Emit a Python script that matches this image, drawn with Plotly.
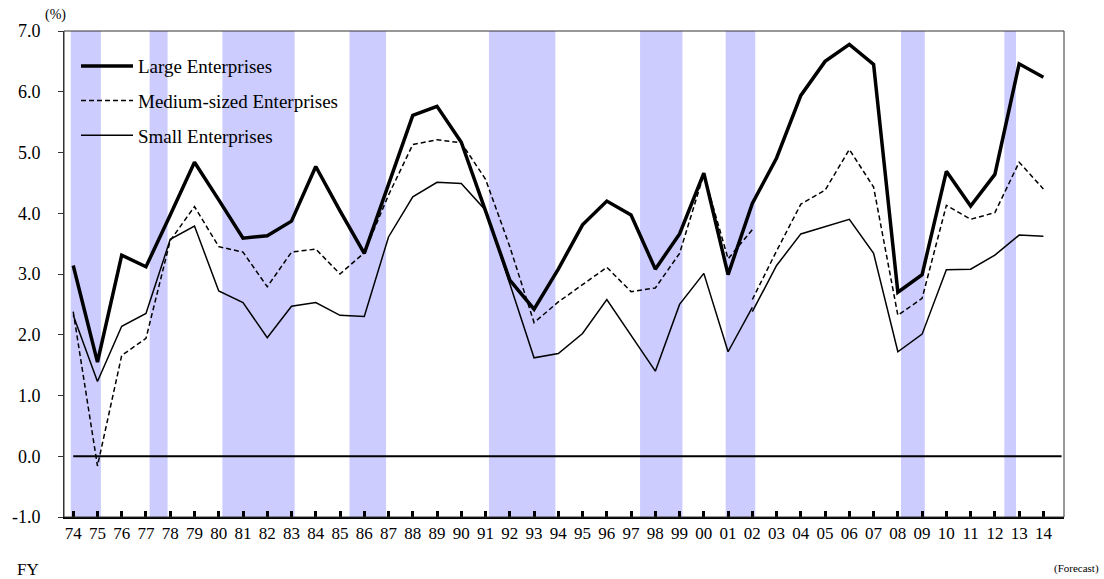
import plotly.graph_objects as go

# fiscal years 1974..2014
years = list(range(1974, 2015))
year_labels = [str(y)[2:] for y in years]

y_ticks = [-1, 0, 1, 2, 3, 4, 5, 6, 7]
y_tick_labels = ["-1.0", "0.0", "1.0", "2.0", "3.0", "4.0", "5.0", "6.0", "7.0"]

large = [3.14, 1.55, 3.31, 3.12, 3.97, 4.84, 4.22, 3.59, 3.63, 3.87,
         4.77, 4.04, 3.34, 4.48, 5.61, 5.76, 5.17, 4.04, 2.90, 2.42,
         3.08, 3.81, 4.20, 3.97, 3.08, 3.66, 4.66, 2.99, 4.16, 4.91,
         5.94, 6.50, 6.78, 6.45, 2.70, 2.99, 4.69, 4.12, 4.64, 6.46,
         6.24]

# medium-sized series has a break in FY02 (old basis / new basis)
medium_old = [2.38, -0.16, 1.66, 1.94, 3.55, 4.11, 3.45, 3.36, 2.79, 3.36,
              3.41, 3.00, 3.35, 4.30, 5.13, 5.21, 5.16, 4.56, 3.45, 2.20,
              2.54, 2.82, 3.11, 2.71, 2.77, 3.34, 4.64, 3.25, 3.73]
medium_new = [2.58, 3.38, 4.15, 4.38, 5.05, 4.43, 2.32, 2.60, 4.13, 3.90,
              4.01, 4.84, 4.40]

small_old = [2.32, 1.23, 2.14, 2.35, 3.57, 3.79, 2.72, 2.53, 1.95, 2.47,
             2.53, 2.32, 2.30, 3.61, 4.27, 4.51, 4.49, 4.05, 2.84, 1.62,
             1.69, 2.02, 2.58, 1.99, 1.40, 2.50, 3.01, 1.72, 2.45]
small_new = [2.38, 3.14, 3.66, 3.78, 3.90, 3.34, 1.72, 2.01, 3.07, 3.08,
             3.31, 3.64, 3.62]

# recession periods (shaded), in fiscal-year units
recession_start = [1973.90, 1977.15, 1980.15, 1985.39, 1991.14, 1997.37, 2000.90, 2008.13, 2012.39]
recession_end = [1975.14, 1977.89, 1983.13, 1986.90, 1993.88, 1999.12, 2002.12, 2009.11, 2012.87]

FONT = "'Liberation Serif', 'Times New Roman', Times, serif"
BAND = "#CCCCFF"

fig = go.Figure()

for x0, x1 in zip(recession_start, recession_end):
    fig.add_vrect(x0=x0, x1=x1, fillcolor=BAND, line_width=0, layer="below", opacity=1)

fig.add_trace(go.Scatter(
    x=years, y=large, mode="lines", name="Large Enterprises",
    line=dict(color="black", width=3.5), legendgroup="l",
))
fig.add_trace(go.Scatter(
    x=years[:len(medium_old)], y=medium_old, mode="lines", name="Medium-sized Enterprises",
    line=dict(color="black", width=1.5, dash="5px,3px"), legendgroup="m",
))
fig.add_trace(go.Scatter(
    x=years[-len(medium_new):], y=medium_new, mode="lines", name="Medium-sized Enterprises",
    line=dict(color="black", width=1.5, dash="5px,3px"), legendgroup="m", showlegend=False,
))
fig.add_trace(go.Scatter(
    x=years[:len(small_old)], y=small_old, mode="lines", name="Small Enterprises",
    line=dict(color="black", width=1.5), legendgroup="s",
))
fig.add_trace(go.Scatter(
    x=years[-len(small_new):], y=small_new, mode="lines", name="Small Enterprises",
    line=dict(color="black", width=1.5), legendgroup="s", showlegend=False,
))

# zero line and frame
fig.add_shape(type="line", xref="x", yref="y", x0=1974, x1=2014.75, y0=0, y1=0,
              line=dict(color="black", width=2))
fig.add_shape(type="rect", xref="paper", yref="paper", x0=0, x1=1, y0=0, y1=1,
              line=dict(color="#333333", width=1))

fig.update_layout(
    width=1104, height=579,
    paper_bgcolor="white", plot_bgcolor="white",
    font=dict(family=FONT, color="black", size=17),
    margin=dict(l=60, r=40, t=31, b=62),
    showlegend=True,
    legend=dict(
        x=0.012, y=0.967, xanchor="left", yanchor="top",
        bgcolor="rgba(0,0,0,0)", font=dict(size=19, family=FONT),
        traceorder="grouped", tracegroupgap=7, itemwidth=52,
    ),
    xaxis=dict(
        range=[1973.62, 2014.85], tickmode="array", tickvals=years, ticktext=year_labels,
        ticks="inside", ticklen=6, tickwidth=3, tickcolor="black",
        showline=True, linecolor="black", linewidth=2, showgrid=False, zeroline=False,
        tickfont=dict(size=17, family=FONT), ticklabelstandoff=0,
    ),
    yaxis=dict(
        range=[-1, 7], tickmode="array", tickvals=y_ticks, ticktext=y_tick_labels,
        ticks="outside", ticklen=5, tickcolor="#333333",
        showline=True, linecolor="#333333", linewidth=1, showgrid=False, zeroline=False,
        tickfont=dict(size=18, family=FONT), ticklabelstandoff=14,
    ),
    annotations=[
        dict(text="(%)", x=-0.021, y=1.033, xref="paper", yref="paper",
             xanchor="left", yanchor="middle", showarrow=False, font=dict(size=14, family=FONT)),
        dict(text="FY", x=-0.049, y=-0.109, xref="paper", yref="paper",
             xanchor="left", yanchor="middle", showarrow=False, font=dict(size=17, family=FONT)),
        dict(text="(Forecast)", x=1.037, y=-0.105, xref="paper", yref="paper",
             xanchor="right", yanchor="middle", showarrow=False, font=dict(size=11, family=FONT)),
    ],
)

# drop the default page margin so the figure fills the window exactly
fig.write_html("out.html", config={"displayModeBar": False},
               post_script="document.body.style.margin='0';document.body.style.overflow='hidden';")
